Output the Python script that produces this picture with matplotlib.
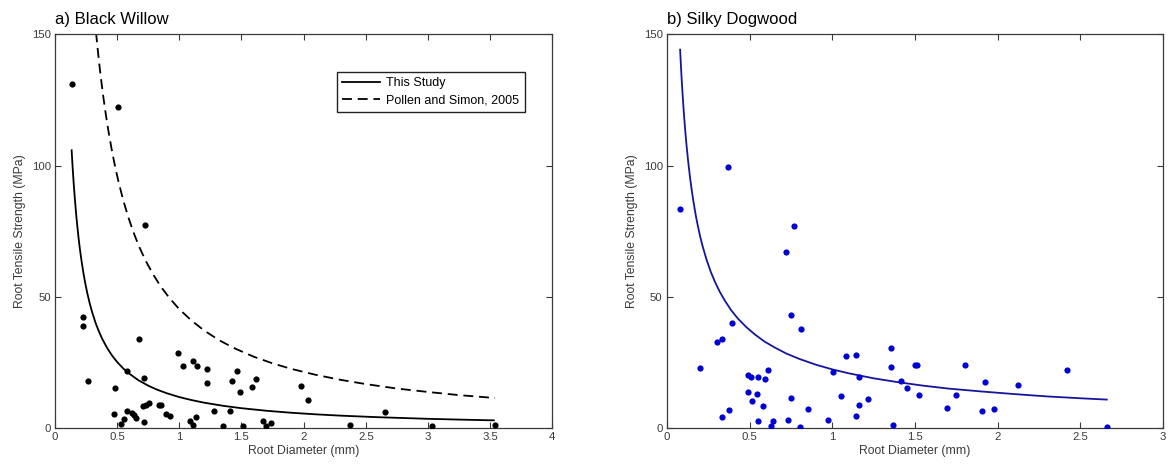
import matplotlib
matplotlib.use('Agg')
import matplotlib.pyplot as plt

plt.rcParams['font.family'] = ['Liberation Sans', 'DejaVu Sans']

# a) Black Willow - measured roots
willow_d = [0.134, 0.51, 0.724, 0.222, 0.222, 0.265, 0.676, 0.576, 0.716, 0.486,
            0.476, 0.576, 0.616, 0.635, 0.649, 0.554, 0.535, 0.716, 0.708, 0.73,
            0.757, 0.838, 0.851, 0.892, 0.927, 0.986, 1.032, 1.111, 1.141, 1.222,
            1.222, 1.089, 1.111, 1.138, 1.281, 1.351, 1.411, 1.422, 1.465, 1.492,
            1.511, 1.581, 1.616, 1.676, 1.695, 1.735, 1.976, 2.035, 2.37, 2.656,
            3.03, 3.54]
willow_t = [131.0, 122.1, 77.3, 42.2, 39.0, 18.1, 34.1, 21.7, 19.2, 15.3,
            5.6, 6.4, 5.8, 5.1, 3.8, 3.5, 1.5, 2.2, 8.3, 8.7,
            9.6, 8.7, 9.0, 5.4, 4.5, 28.8, 23.5, 25.6, 23.7, 22.4,
            17.1, 2.9, 1.2, 4.1, 6.5, 0.9, 6.5, 17.8, 21.8, 13.6,
            0.8, 15.8, 18.6, 2.6, 1.0, 1.8, 16.0, 10.9, 1.4, 6.0,
            1.0, 1.2]

# curve: this study
study_d = [0.134, 0.14, 0.145, 0.15, 0.16, 0.17, 0.18, 0.19, 0.2, 0.215, 0.23,
           0.245, 0.26, 0.28, 0.3, 0.325, 0.35, 0.38, 0.42, 0.46, 0.5, 0.55,
           0.6, 0.67, 0.75, 0.82, 0.9, 1.0, 1.1, 1.2, 1.35, 1.5, 1.7, 1.9,
           2.1, 2.3, 2.6, 3.0, 3.3, 3.53]
study_t = [105.8, 100.8, 97.1, 93.5, 87.2, 81.6, 76.7, 72.3, 68.3, 63.2, 58.7,
           54.8, 51.4, 47.4, 44.0, 40.3, 37.2, 34.0, 30.5, 27.6, 25.2, 22.7,
           20.7, 18.3, 16.2, 14.7, 13.3, 11.85, 10.7, 9.72, 8.55, 7.62, 6.65, 5.89,
           5.28, 4.78, 4.19, 3.58, 3.23, 3.0]

# curve: Pollen and Simon, 2005
pollen_d = [0.33, 0.345, 0.36, 0.375, 0.39, 0.41, 0.43, 0.455, 0.48, 0.51, 0.55,
            0.59, 0.63, 0.68, 0.73, 0.79, 0.85, 0.92, 1.0, 1.1, 1.2, 1.32, 1.45,
            1.6, 1.75, 1.9, 2.1, 2.3, 2.5, 2.75, 3.0, 3.25, 3.54]
pollen_t = [150.7, 143.6, 137.1, 131.2, 125.7, 119.1, 113.1, 106.4, 100.4, 94.0, 86.6,
            80.3, 74.7, 68.8, 63.7, 58.5, 54.0, 49.6, 45.3, 40.9, 37.2, 33.5, 30.3,
            27.2, 24.7, 22.6, 20.3, 18.4, 16.8, 15.1, 13.8, 12.6, 11.5]

# b) Silky Dogwood - measured roots
dogwood_d = [0.078, 0.369, 0.768, 0.72, 0.202, 0.3, 0.331, 0.391, 0.331, 0.373,
             0.49, 0.51, 0.55, 0.593, 0.611, 0.49, 0.542, 0.512, 0.581, 0.55,
             0.631, 0.641, 0.732, 0.752, 0.752, 0.813, 0.802, 0.853, 0.972, 1.002,
             1.052, 1.083, 1.143, 1.143, 1.163, 1.163, 1.214, 1.353, 1.353, 1.365,
             1.413, 1.454, 1.502, 1.514, 1.524, 1.696, 1.746, 1.805, 1.926, 1.906,
             1.977, 2.126, 2.419, 2.66]
dogwood_t = [83.5, 99.5, 77.1, 66.9, 22.9, 32.8, 34.1, 39.9, 4.4, 6.9,
             20.1, 19.5, 19.5, 18.8, 22.2, 13.8, 12.9, 10.3, 8.5, 2.7,
             1.0, 2.7, 3.2, 11.4, 43.1, 37.9, 0.4, 7.3, 3.1, 21.3,
             12.3, 27.4, 27.9, 4.6, 9.0, 19.5, 11.3, 30.6, 23.2, 1.4,
             17.9, 15.4, 24.1, 24.1, 12.6, 7.6, 12.6, 24.2, 17.7, 6.4,
             7.2, 16.4, 22.1, 0.4]

# curve: dogwood fit
dogfit_d = [0.08, 0.085, 0.09, 0.095, 0.1, 0.105, 0.11, 0.115, 0.12, 0.13, 0.14,
            0.15, 0.16, 0.175, 0.185, 0.2, 0.215, 0.24, 0.265, 0.29, 0.32, 0.35,
            0.39, 0.43, 0.48, 0.53, 0.59, 0.65, 0.72, 0.8, 0.9, 1.0, 1.1, 1.25,
            1.4, 1.55, 1.7, 1.9, 2.1, 2.3, 2.5, 2.66]
dogfit_t = [144.1, 137.8, 132.1, 127.0, 122.3, 117.9, 114.0, 110.3, 106.9, 100.8, 95.4,
            90.7, 86.5, 80.9, 77.7, 73.3, 69.5, 64.1, 59.6, 55.8, 51.9, 48.6,
            44.8, 41.7, 38.5, 35.8, 33.0, 30.8, 28.5, 26.4, 24.2, 22.4, 20.9, 19.0,
            17.5, 16.2, 15.1, 14.0, 13.0, 12.1, 11.4, 10.9]

titles = ['a) Black Willow', 'b) Silky Dogwood']
x_ticks = [[0, 0.5, 1, 1.5, 2, 2.5, 3, 3.5, 4], [0, 0.5, 1, 1.5, 2, 2.5, 3]]
x_labels = [['0', '0.5', '1', '1.5', '2', '2.5', '3', '3.5', '4'],
            ['0', '0.5', '1', '1.5', '2', '2.5', '3']]
y_ticks = [0, 50, 100, 150]

axcol = '#3a3a3a'

fig = plt.figure(figsize=(11.7, 4.68), dpi=100)
ax1 = fig.add_axes([0.047, 0.085, 0.425, 0.842])
ax2 = fig.add_axes([0.570, 0.085, 0.424, 0.842])

ax1.plot(study_d, study_t, color='black', lw=1.3, label='This Study')
ax1.plot(pollen_d, pollen_t, color='black', lw=1.3, ls=(0, (5.5, 3.2)),
         label='Pollen and Simon, 2005')
ax1.scatter(willow_d, willow_t, s=20, color='black', zorder=3, linewidths=0)
leg = ax1.legend(loc='upper right', bbox_to_anchor=(0.957, 0.921), fontsize=9,
                 frameon=True, fancybox=False, framealpha=1, handlelength=3.0,
                 borderpad=0.45, labelspacing=0.4, handletextpad=0.5)
leg.get_frame().set_edgecolor('#222222')
leg.get_frame().set_linewidth(1.0)

ax2.plot(dogfit_d, dogfit_t, color='#15159c', lw=1.3)
ax2.scatter(dogwood_d, dogwood_t, s=20, color='#0000d2', zorder=3, linewidths=0)

for i, ax in enumerate([ax1, ax2]):
    ax.set_xlim(x_ticks[i][0], x_ticks[i][-1])
    ax.set_ylim(0, 150)
    ax.set_xticks(x_ticks[i])
    ax.set_xticklabels(x_labels[i])
    ax.set_yticks(y_ticks)
    ax.tick_params(direction='in', top=True, right=True, length=4, width=0.8,
                   colors=axcol, labelsize=8.2, pad=3)
    for sp in ax.spines.values():
        sp.set_color(axcol)
        sp.set_linewidth(0.9)
    ax.set_xlabel('Root Diameter (mm)', fontsize=8.8, color=axcol, labelpad=2)
    ax.set_ylabel('Root Tensile Strength (MPa)', fontsize=8.8, color=axcol,
                  labelpad=4)
    ax.set_title(titles[i], loc='left', fontsize=12, pad=7, color='black')

fig.savefig('out.png', dpi=100)
